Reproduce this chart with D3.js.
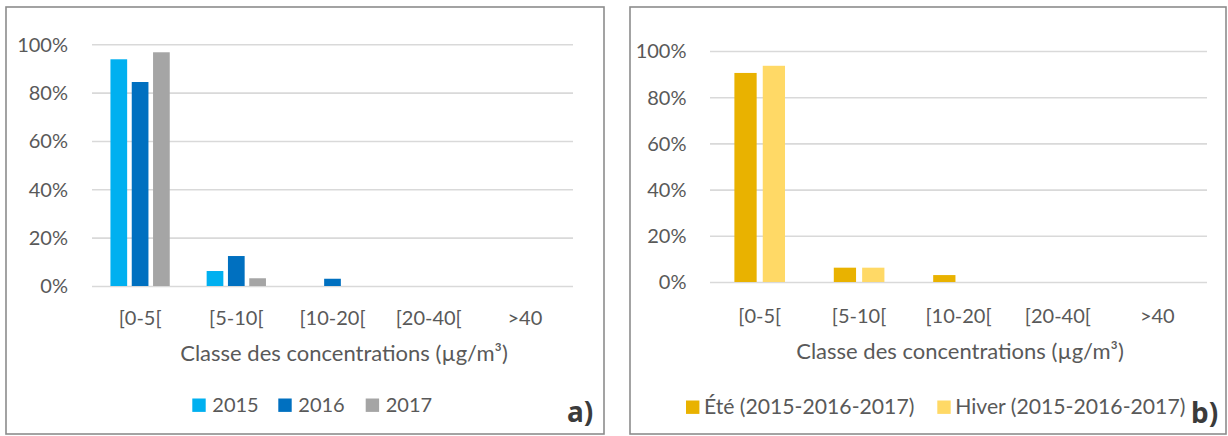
<!DOCTYPE html>
<html><head><meta charset="utf-8">
<script src="https://cdn.jsdelivr.net/npm/d3@7"></script>
<style>
html,body{margin:0;padding:0;background:#fff;}
svg{display:block;font-family:Lato, "Open Sans", sans-serif;}
</style></head>
<body>
<svg id="c" width="1228" height="436"></svg>
<script>
// ---------- DATA ----------
const categories = ["[0-5[", "[5-10[", "[10-20[", "[20-40[", ">40"];
const yTicks = [0, 0.2, 0.4, 0.6, 0.8, 1.0];
const axisTitle = "Classe des concentrations (µg/m³)";

const seriesA = ["2015", "2016", "2017"];
const values2015 = [0.938, 0.062, 0, 0, 0];
const values2016 = [0.844, 0.124, 0.030, 0, 0];
const values2017 = [0.967, 0.032, 0, 0, 0];

const seriesB = ["Été (2015-2016-2017)", "Hiver (2015-2016-2017)"];
const valuesEte = [0.905, 0.062, 0.030, 0, 0];
const valuesHiver = [0.936, 0.062, 0, 0, 0];

// ---------- DRAW ----------
const svg = d3.select("#c");
const textColor = "#595959";

function panel(cfg) {
  const g = svg.append("g");
  g.append("rect")
    .attr("x", cfg.box[0]).attr("y", cfg.box[1])
    .attr("width", cfg.box[2] - cfg.box[0]).attr("height", cfg.box[3] - cfg.box[1])
    .attr("fill", "#fff").attr("stroke", "#8c8c8c").attr("stroke-width", 1.6);

  const x0 = d3.scaleBand().domain(categories).range(cfg.xr).padding(0);
  const x1 = d3.scaleBand().domain(cfg.series).range([0, x0.bandwidth()])
    .paddingInner(cfg.pi).paddingOuter(cfg.po);
  const y = d3.scaleLinear().domain([0, 1]).range(cfg.yr);

  const ya = d3.axisLeft(y).tickValues(yTicks).tickFormat(d3.format(".0%"))
    .tickSize(-(cfg.xr[1] - cfg.xr[0])).tickPadding(cfg.tickPad);
  const yg = g.append("g").attr("transform", `translate(${cfg.xr[0]},0)`).call(ya);
  yg.select(".domain").remove();
  yg.selectAll(".tick line").attr("stroke", "#d9d9d9").attr("stroke-width", 1.6);
  yg.selectAll(".tick text").attr("fill", textColor).attr("font-size", 20)
    .attr("font-family", "Lato").attr("dy", "0.34em");

  cfg.series.forEach((s, i) => {
    g.append("g").selectAll("rect").data(cfg.values[i]).join("rect")
      .attr("x", (d, j) => x0(categories[j]) + x1(s))
      .attr("width", x1.bandwidth())
      .attr("y", d => y(d))
      .attr("height", d => y(0) - y(d))
      .attr("fill", cfg.colors[i]);
  });

  const xa = d3.axisBottom(x0).tickSize(0).tickPadding(0);
  const xg = g.append("g").attr("transform", `translate(0,${cfg.xLabelY})`).call(xa);
  xg.select(".domain").remove();
  xg.selectAll(".tick text").attr("fill", textColor).attr("font-size", 20)
    .attr("font-family", "Lato").attr("dy", 0);

  g.append("text").attr("x", cfg.titleX).attr("y", cfg.titleY)
    .attr("text-anchor", "middle").attr("fill", textColor).attr("font-size", 22)
    .text(axisTitle);

  cfg.series.forEach((s, i) => {
    const lx = cfg.legendX[i];
    g.append("rect").attr("x", lx).attr("y", cfg.legendY - 13.5)
      .attr("width", 13.4).attr("height", 13.4).attr("fill", cfg.colors[i]);
    g.append("text").attr("x", lx + 13.4 + cfg.legendGap).attr("y", cfg.legendY)
      .attr("fill", textColor).attr("font-size", cfg.legendSize).text(s);
  });

  g.append("text").attr("x", cfg.tagX).attr("y", cfg.tagY)
    .attr("fill", "#3b3b3b").attr("font-size", 28).attr("font-weight", 700)
    .attr("font-family", "'Noto Sans', 'DejaVu Sans', sans-serif")
    .text(cfg.tag);
}

panel({
  box: [6, 7, 604, 434],
  xr: [92, 573], yr: [286, 44.3],
  series: seriesA, values: [values2015, values2016, values2017],
  colors: ["#00b0f0", "#0070c0", "#a5a5a5"],
  pi: 0.216, po: 0.866, tickPad: 24,
  xLabelY: 324.5, titleX: 344, titleY: 361,
  legendX: [192.3, 278.3, 365.7], legendY: 412, legendGap: 6.6, legendSize: 20,
  tag: "a)", tagX: 567, tagY: 422
});

panel({
  box: [630, 7, 1226, 434],
  xr: [710, 1207], yr: [282, 51],
  series: seriesB, values: [valuesEte, valuesHiver],
  colors: ["#e9b200", "#ffd966"],
  pi: 0.215, po: 0.86, tickPad: 23.5,
  xLabelY: 323, titleX: 960, titleY: 358.5,
  legendX: [686, 937.3], legendY: 414, legendGap: 4.5, legendSize: 21.2,
  tag: "b)", tagX: 1191, tagY: 423
});
</script>
</body></html>
